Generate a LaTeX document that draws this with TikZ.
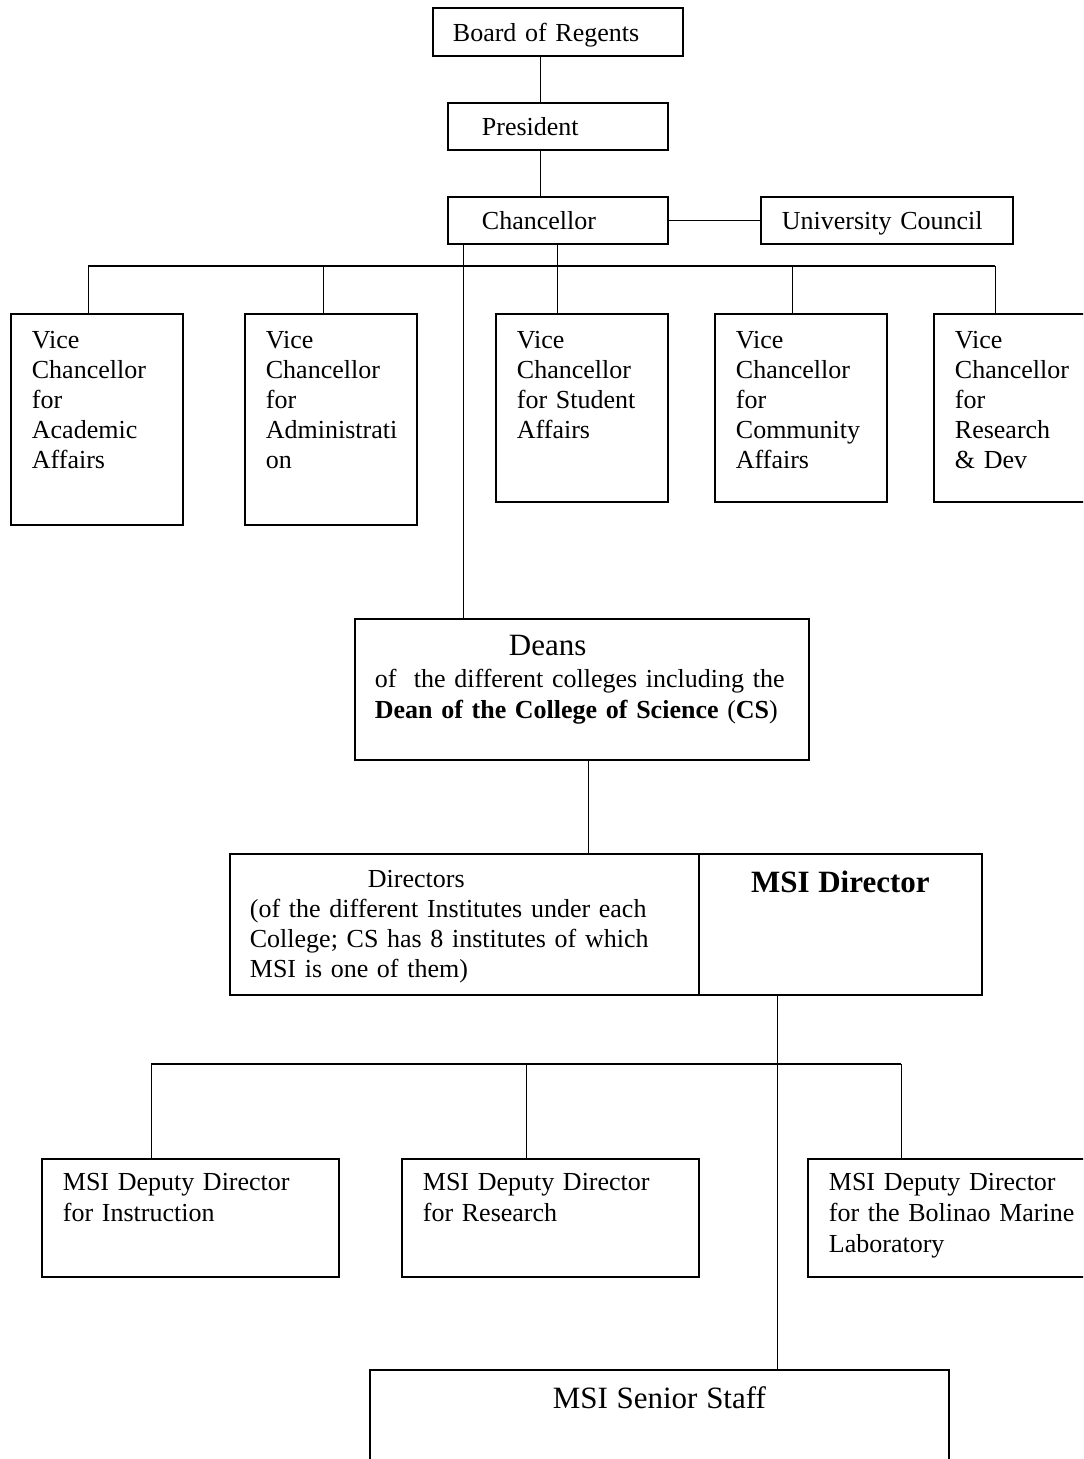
\documentclass[tikz,border=0pt]{standalone}
\usepackage{fontspec}
\setmainfont{Liberation Serif}
\usetikzlibrary{calc}

\tikzset{
  box/.style={draw, line width=0.9pt, anchor=north west, inner ysep=0pt,
    align=left, font=\fontsize{13}{15}\selectfont},
  vc/.style={box, inner xsep=10.5pt, text width=65pt, text height=17.5pt},
  dep/.style={box, inner xsep=10.5pt, text width=127.5pt, text height=16pt,
    text depth=43pt, font=\fontsize{13}{15.5}\selectfont},
  line/.style={line width=0.5pt},
  bus/.style={line width=0.8pt},
}
\newcommand{\bigtxt}{\fontsize{15.5}{17}\selectfont}

\begin{document}
\begin{tikzpicture}[x=0.5pt, y=-0.5pt]
        \useasboundingbox (0,0) rectangle (1083,1459);
        \clip (0,0) rectangle (1083,1459);
        % top of the chart
        \node[box, inner xsep=10pt, text width=105pt, text height=17pt, text depth=7pt] (bor) at (432,7) {Board of Regents};
        \node[box, inner xsep=17pt, text width=76pt, text height=16.5pt, text depth=7pt] (pres) at (447,102) {President};
        \node[box, inner xsep=17pt, text width=76pt, text height=16.5pt, text depth=7pt] (chan) at (447,196) {Chancellor};
        \node[box, inner xsep=10.5pt, text width=105pt, text height=16.5pt, text depth=7pt] (uc) at (760,196) {University Council};
        % vice chancellors
        \node[vc, text depth=88pt] (vca) at (10,313) {Vice\\Chancellor\\for\\Academic\\Affairs};
        \node[vc, text depth=88pt] (vcb) at (244,313) {Vice\\Chancellor\\for\\Administrati\\on};
        \node[vc, text depth=76.5pt] (vcc) at (495,313) {Vice\\Chancellor\\for Student\\Affairs};
        \node[vc, text depth=76.5pt] (vcd) at (714,313) {Vice\\Chancellor\\for\\Community\\Affairs};
        \node[vc, text depth=76.5pt] (vce) at (933,313) {Vice\\Chancellor\\for\\Research\\\& Dev};
        % deans and directors
        \node[box, inner xsep=10pt, text width=207pt, text height=18.5pt, text depth=52pt] (deans) at (354,618)
          {\hspace*{67pt}{\bigtxt Deans}\\[1pt]of~ the different colleges including the\\[0.5pt]\textbf{Dean of the College of Science} (\textbf{CS})};
        \node[box, inner xsep=10pt, text width=214.5pt, text height=17pt, text depth=53.5pt] (dir) at (229,853)
          {\hspace*{59pt}Directors\\(of the different Institutes under each\\College; CS has 8 institutes of which\\MSI is one of them)};
        \node[box, align=center, inner xsep=10pt, text width=121.5pt, text height=19.5pt, text depth=51pt] (msid) at (698,853)
          {\bigtxt\textbf{MSI Director}};
        % deputies and staff
        \node[dep] (depa) at (41,1158) {MSI Deputy Director\\for Instruction};
        \node[dep] (depb) at (401,1158) {MSI Deputy Director\\for Research};
        \node[dep] (depc) at (807,1158) {MSI Deputy Director\\for the Bolinao Marine\\Laboratory};
        \node[box, align=center, inner xsep=10pt, text width=269.5pt, text height=19.5pt, text depth=40.5pt] (staff) at (369,1369)
          {\bigtxt MSI Senior Staff};

        % connectors
        \coordinate (spine) at (540,0);
        \draw[line] (spine |- bor.south) -- (spine |- pres.north);
        \draw[line] (spine |- pres.south) -- (spine |- chan.north);
        \draw[bus] (chan.east) -- (uc.west);
        \coordinate (busL) at (88,266);
        \coordinate (busR) at (995,266);
        \draw[bus] (busL) -- (busR);
        \draw[line] (chan.south) -- (chan.south |- busL);
        \foreach \b/\dx in {vca/78, vcb/79, vcc/62, vcd/78, vce/62}
          \draw[line] ($(\b.north west)+(\dx,0)$) coordinate (t) -- (t |- busL);
        \draw[line] ($(chan.south west)+(16,0)$) coordinate (c) -- (c |- deans.north);
        \draw[line] ($(deans.south west)+(234,0)$) coordinate (d) -- (d |- dir.north);
        \draw[line] ($(msid.south west)+(79,0)$) coordinate (m) -- (m |- staff.north);
        \coordinate (bus2L) at (151,1064);
        \coordinate (bus2R) at (901,1064);
        \draw[bus] (bus2L) -- (bus2R);
        \foreach \b/\dx in {depa/110, depb/125, depc/94}
          \draw[line] ($(\b.north west)+(\dx,0)$) coordinate (t) -- (t |- bus2L);
\end{tikzpicture}
\end{document}
